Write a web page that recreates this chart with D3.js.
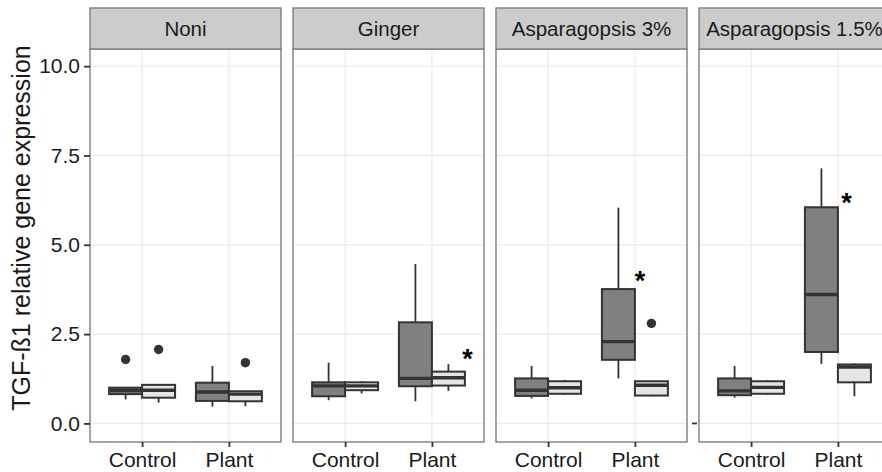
<!DOCTYPE html>
<html>
<head>
<meta charset="utf-8">
<script src="https://cdn.jsdelivr.net/npm/d3@7"></script>
<style>
  body { margin: 0; background: #fff; }
  text { font-family: "Liberation Sans", Arial, sans-serif; }
</style>
</head>
<body>
<svg id="chart" width="882" height="472"></svg>
<script>
/*
 * DATA
 */

var panels = ["Noni", "Ginger", "Asparagopsis 3%", "Asparagopsis 1.5%"];
var groups = ["Control", "Plant"];
var fills = ["dark", "light"];

// one row per panel, order: Control-dark, Control-light, Plant-dark, Plant-light
var whiskerLow = [
  [0.67, 0.58, 0.47, 0.48],
  [0.65, 0.84, 0.62, 0.91],
  [0.70, 0.80, 1.26, 0.76],
  [0.72, 0.80, 1.66, 0.76]
];
var q1 = [
  [0.82, 0.72, 0.63, 0.62],
  [0.76, 0.93, 1.04, 1.06],
  [0.77, 0.83, 1.78, 0.78],
  [0.79, 0.83, 2.00, 1.15]
];
var median = [
  [0.92, 0.93, 0.88, 0.82],
  [1.05, 1.05, 1.26, 1.28],
  [0.93, 1.00, 2.29, 1.07],
  [0.91, 1.01, 3.61, 1.58]
];
var q3 = [
  [1.00, 1.08, 1.14, 0.90],
  [1.15, 1.15, 2.83, 1.45],
  [1.26, 1.18, 3.76, 1.18],
  [1.26, 1.18, 6.05, 1.65]
];
var whiskerHigh = [
  [1.00, 1.10, 1.61, 0.90],
  [1.70, 1.18, 4.46, 1.66],
  [1.61, 1.22, 6.04, 1.18],
  [1.61, 1.21, 7.14, 1.68]
];

// outliers: [panel, group, fill, value]
var outliers = [
  [0, 0, 0, 1.79],
  [0, 0, 1, 2.07],
  [0, 1, 1, 1.70],
  [2, 1, 1, 2.80]
];

// significance stars: [panel, x position (group units, Control=1), value]
var stars = [
  [1, 2.41, 1.98],
  [2, 2.06, 4.15],
  [3, 2.10, 6.34]
];

var yTicks = [0, 2.5, 5, 7.5, 10];
var yTitle = "TGF-\u00DF1  relative gene expression";

/*
 * LAYOUT
 */

var svg = d3.select("#chart");
var panelLeft = 90, panelStep = 203, panelW = 191;
var stripTop = 8, panelTop = 49, panelBottom = 442;

var y = d3.scaleLinear().domain([-0.52, 10.48]).range([panelBottom, panelTop]);
var x = d3.scalePoint().domain(groups).range([0, panelW]).padding(0.6);
var step = x.step();
var dodge = d3.scaleBand().domain(fills).range([-0.38 * step, 0.38 * step]);
var xUnit = d3.scaleLinear().domain([0.4, 2.6]).range([0, panelW]);

var fillColor = { dark: "#808080", light: "#e5e5e5" };
var ink = "#333333";
var labelSize = 21;

panels.forEach(function (name, p) {
  var g = svg.append("g").attr("transform", "translate(" + (panelLeft + p * panelStep) + ",0)");

  // grid
  g.selectAll(".hgrid").data(yTicks).enter().append("line")
    .attr("x1", 0).attr("x2", panelW)
    .attr("y1", function (d) { return y(d); }).attr("y2", function (d) { return y(d); })
    .attr("stroke", "#ebebeb").attr("stroke-width", 1.2);
  g.selectAll(".vgrid").data(groups).enter().append("line")
    .attr("x1", function (d) { return x(d); }).attr("x2", function (d) { return x(d); })
    .attr("y1", panelTop).attr("y2", panelBottom)
    .attr("stroke", "#ebebeb").attr("stroke-width", 1.2);

  // boxes
  var rows = [];
  groups.forEach(function (gr, gi) {
    fills.forEach(function (f, fi) {
      var k = gi * 2 + fi;
      rows.push({
        group: gr, fill: f,
        lo: whiskerLow[p][k], q1: q1[p][k], med: median[p][k], q3: q3[p][k], hi: whiskerHigh[p][k]
      });
    });
  });

  var box = g.selectAll(".box").data(rows).enter().append("g")
    .attr("transform", function (d) { return "translate(" + (x(d.group) + dodge(d.fill)) + ",0)"; });
  var bw = dodge.bandwidth();

  box.append("line")
    .attr("x1", bw / 2).attr("x2", bw / 2)
    .attr("y1", function (d) { return y(d.hi); }).attr("y2", function (d) { return y(d.q3); })
    .attr("stroke", ink).attr("stroke-width", 1.8);
  box.append("line")
    .attr("x1", bw / 2).attr("x2", bw / 2)
    .attr("y1", function (d) { return y(d.q1); }).attr("y2", function (d) { return y(d.lo); })
    .attr("stroke", ink).attr("stroke-width", 1.8);
  box.append("rect")
    .attr("x", 0).attr("width", bw)
    .attr("y", function (d) { return y(d.q3); })
    .attr("height", function (d) { return y(d.q1) - y(d.q3); })
    .attr("fill", function (d) { return fillColor[d.fill]; })
    .attr("stroke", ink).attr("stroke-width", 2);
  box.append("line")
    .attr("x1", 0).attr("x2", bw)
    .attr("y1", function (d) { return y(d.med); }).attr("y2", function (d) { return y(d.med); })
    .attr("stroke", ink).attr("stroke-width", 3.4);

  // outliers
  g.selectAll(".out").data(outliers.filter(function (o) { return o[0] === p; })).enter().append("circle")
    .attr("cx", function (o) { return x(groups[o[1]]) + dodge(fills[o[2]]) + bw / 2; })
    .attr("cy", function (o) { return y(o[3]); })
    .attr("r", 4.7).attr("fill", ink);

  // stars
  g.selectAll(".star").data(stars.filter(function (s) { return s[0] === p; })).enter().append("text")
    .attr("x", function (s) { return xUnit(s[1]); })
    .attr("y", function (s) { return y(s[2]) + 15; })
    .attr("text-anchor", "middle")
    .attr("font-size", 27).attr("font-weight", "bold").attr("fill", "#000")
    .text("*");

  // panel border
  g.append("rect").attr("x", 0).attr("y", panelTop).attr("width", panelW).attr("height", panelBottom - panelTop)
    .attr("fill", "none").attr("stroke", "#7f7f7f").attr("stroke-width", 1.4);

  // strip
  g.append("rect").attr("x", 0).attr("y", stripTop).attr("width", panelW).attr("height", panelTop - stripTop)
    .attr("fill", "#cccccc").attr("stroke", "#7f7f7f").attr("stroke-width", 1.4);
  g.append("text").attr("x", panelW / 2).attr("y", (stripTop + panelTop) / 2 + 7.5)
    .attr("text-anchor", "middle").attr("font-size", 20.5).attr("fill", "#1a1a1a")
    .text(name);

  // x axis
  var xa = g.append("g").attr("transform", "translate(0," + panelBottom + ")")
    .call(d3.axisBottom(x).tickSize(5).tickPadding(5));
  xa.select(".domain").remove();
  xa.selectAll(".tick line").attr("stroke", ink).attr("stroke-width", 1.8);
  xa.selectAll(".tick text").attr("font-size", labelSize).attr("fill", "#1a1a1a")
    .attr("font-family", "Liberation Sans, Arial, sans-serif");

  if (p === 0) {
    var ya = g.append("g").call(d3.axisLeft(y).tickValues(yTicks).tickFormat(d3.format(".1f")).tickSize(6).tickPadding(4));
    ya.select(".domain").remove();
    ya.selectAll(".tick line").attr("stroke", ink).attr("stroke-width", 1.8);
    ya.selectAll(".tick text").attr("font-size", labelSize).attr("fill", "#1a1a1a")
      .attr("font-family", "Liberation Sans, Arial, sans-serif");
  }
  if (p === 3) {
    // stray tick at zero on the last panel
    g.append("line").attr("x1", -7).attr("x2", -2).attr("y1", y(0)).attr("y2", y(0))
      .attr("stroke", ink).attr("stroke-width", 1.8);
  }
});

svg.append("text")
  .attr("transform", "translate(30,228) rotate(-90)")
  .attr("text-anchor", "middle").attr("font-size", 25).attr("fill", "#1a1a1a")
  .text(yTitle);
</script>
</body>
</html>
